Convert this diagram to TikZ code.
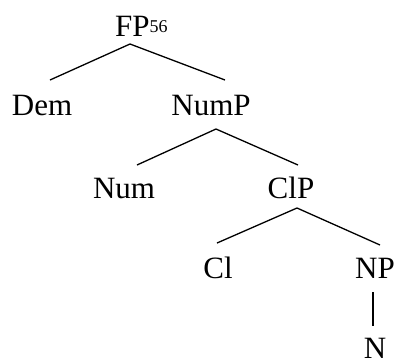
\documentclass[tikz,border=0pt]{standalone}
\usepackage{fontspec}
\setmainfont{Liberation Serif}
\usetikzlibrary{calc}
\tikzset{
  lbl/.style={font=\fontsize{31}{31}\selectfont, inner sep=0pt, anchor=base},
  branch/.style={line width=1.3pt}
}
\begin{document}
\begin{tikzpicture}[x=1pt,y=-1pt]
\useasboundingbox (0,0) rectangle (396,360);
\node[lbl, anchor=base west] (FP) at (115,36) {FP\raisebox{4pt}{\fontsize{18}{18}\selectfont 56}};
\node[lbl] (Dem) at (42,115) {Dem};
\node[lbl] (NumP) at (211,115) {NumP};
\node[lbl] (Num) at (124,198) {Num};
\node[lbl] (ClP) at (291,198) {ClP};
\node[lbl] (Cl) at (218,278) {Cl};
\node[lbl] (NP) at (375,278) {NP};
\node[lbl] (N) at (375,358) {N};
\draw[branch] ($(Dem.base)+(8,-35)$) -- ($(FP.base west)+(15,8)$) -- ($(NumP.base)+(14,-35)$);
\draw[branch] ($(Num.base)+(13,-33)$) -- ($(NumP.base)+(5,14)$) -- ($(ClP.base)+(7,-33)$);
\draw[branch] ($(Cl.base)+(-1,-35)$) -- ($(ClP.base)+(6,10)$) -- ($(NP.base)+(5,-33)$);
\draw[branch] ($(NP.base)+(-2,14)$) -- ($(N.base)+(-2,-32)$);
\end{tikzpicture}
\end{document}
